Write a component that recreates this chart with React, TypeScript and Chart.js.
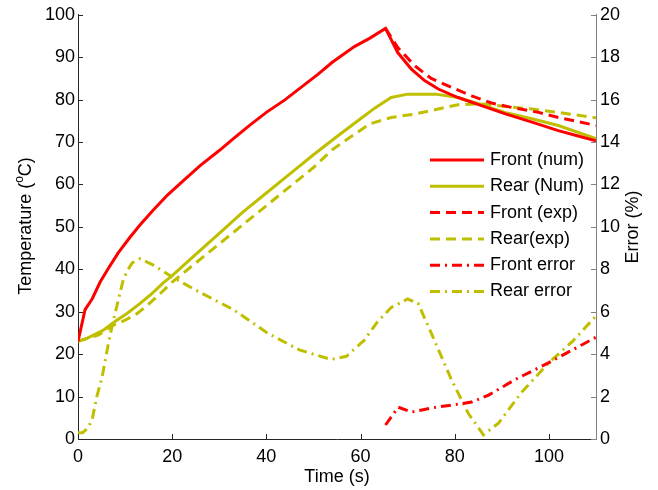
import React, { useEffect, useRef } from 'react';
import { Chart, registerables } from 'chart.js';
Chart.register(...registerables);

const RED = '#ff0000';
const OLIVE = '#bfbf00';
const FONT = '"Liberation Sans", Arial, Helvetica, sans-serif';

const xTicks = [0, 20, 40, 60, 80, 100];

const frontNumT = [0, 0.5, 1.5, 3, 4.7, 6.5, 8.5, 11, 13.2, 16, 19, 22.5, 26, 30, 33, 36.5, 40, 44, 47.5, 51, 54, 58.7, 62, 65.3, 67.9, 70.8, 73.6, 76.5, 80.7, 85.7, 90.6, 96.4, 102, 106, 110];
const frontNumY = [23, 25.5, 30.5, 33, 37, 40.3, 43.8, 47.5, 50.5, 54, 57.5, 61, 64.5, 68, 70.8, 74, 77, 80, 83, 86, 88.8, 92.5, 94.5, 96.8, 91.1, 87.2, 84.5, 82.5, 80.5, 78.6, 76.7, 74.7, 72.7, 71.5, 70.3];

const rearNumT = [0, 2, 5.3, 8, 10.4, 13, 15.4, 18.1, 20, 25, 30, 35, 40, 45, 50, 55, 60, 63, 66.5, 70, 76, 80.7, 85.7, 90.6, 96.4, 102, 110];
const rearNumY = [23, 23.8, 25.6, 27.8, 29.6, 31.8, 34, 36.8, 38.5, 43.5, 48.5, 53.5, 58, 62.5, 67, 71.3, 75.5, 78, 80.5, 81.3, 81.3, 80.5, 78.8, 77, 75.5, 73.9, 70.8];

const frontExpT = [65.3, 67.9, 71.5, 75, 79.3, 83.6, 87.8, 92.8, 97.8, 102, 106.3, 110];
const frontExpY = [96.8, 92.3, 88, 85, 82.9, 80.9, 79.2, 78, 77, 75.8, 74.8, 73.9];

const rearExpT = [0, 4.3, 7.5, 10, 12.6, 15, 17.5, 20, 25, 30, 35, 40, 45, 50, 54, 58, 62, 66.5, 71.5, 76.5, 80.7, 85.7, 90.6, 96.4, 102, 110];
const rearExpY = [23, 24.5, 26.8, 28, 29.6, 31.8, 34.3, 37, 41.5, 46, 50.5, 55, 59.5, 64, 68.2, 71.3, 74.3, 75.8, 76.6, 77.8, 78.8, 79, 78.4, 77.8, 77, 75.7];

const frontErrT = [65.3, 68, 70.8, 75, 79.3, 83.6, 87.2, 92.8, 100, 105, 110];
const frontErrY = [0.66, 1.5, 1.27, 1.46, 1.6, 1.74, 2.07, 2.8, 3.6, 4.2, 4.8];

const rearErrT = [0, 1, 2, 3, 4, 5.1, 6.2, 7.2, 8.5, 9.6, 10.4, 11.5, 13.2, 16, 20.3, 26, 33, 40.2, 47, 53.7, 57, 60.8, 63.5, 66.5, 70, 72.2, 75, 79.3, 82.9, 86.1, 89.3, 94.2, 100, 105, 110];
const rearErrY = [0.3, 0.3, 0.5, 0.9, 2.0, 2.9, 4.2, 5.3, 6.5, 7.5, 7.9, 8.3, 8.5, 8.2, 7.6, 6.9, 6.1, 5.0, 4.2, 3.75, 3.9, 4.66, 5.5, 6.2, 6.6, 6.4, 5.0, 2.8, 1.2, 0.2, 0.75, 2.2, 3.6, 4.6, 5.8];

const DASH = [10, 6];
const DASHDOT = [10, 5, 2, 5];

const series = [
  { label: 'Front (num)', t: frontNumT, v: frontNumY, color: RED, dash: [] as number[], axis: 'y' },
  { label: 'Rear (Num)', t: rearNumT, v: rearNumY, color: OLIVE, dash: [] as number[], axis: 'y' },
  { label: 'Front (exp)', t: frontExpT, v: frontExpY, color: RED, dash: DASH, axis: 'y' },
  { label: 'Rear(exp)', t: rearExpT, v: rearExpY, color: OLIVE, dash: DASH, axis: 'y' },
  { label: 'Front error', t: frontErrT, v: frontErrY, color: RED, dash: DASHDOT, axis: 'y1' },
  { label: 'Rear error', t: rearErrT, v: rearErrY, color: OLIVE, dash: DASHDOT, axis: 'y1' },
];

const decorPlugin = {
  id: 'decor',
  afterDraw(chart: any) {
    const ctx = chart.ctx as CanvasRenderingContext2D;
    const { left, right, bottom } = chart.chartArea;
    const sx = chart.scales.x;
    const sy = chart.scales.y;
    const sy1 = chart.scales.y1;
    ctx.save();
    ctx.lineWidth = 1;
    const seg = (x1: number, y1: number, x2: number, y2: number) => {
      ctx.beginPath();
      ctx.moveTo(x1, y1);
      ctx.lineTo(x2, y2);
      ctx.stroke();
    };
    ctx.strokeStyle = '#262626';
    sy.ticks.forEach((tk: any) => {
      const y = Math.round(sy.getPixelForValue(tk.value)) + 0.5;
      seg(left, y, left + 5, y);
    });
    sx.ticks.forEach((tk: any) => {
      const x = Math.round(sx.getPixelForValue(tk.value)) + 0.5;
      seg(x, bottom, x, bottom - 5);
    });
    ctx.strokeStyle = '#808080';
    sy1.ticks.forEach((tk: any) => {
      const y = Math.round(sy1.getPixelForValue(tk.value)) + 0.5;
      seg(right, y, right - 5, y);
    });

    // titles
    ctx.fillStyle = '#000';
    ctx.textBaseline = 'middle';
    ctx.font = `18px ${FONT}`;
    ctx.textAlign = 'center';
    ctx.fillText('Time (s)', (left + right) / 2, 477);

    // left title with superscript
    const p1 = 'Temperature (';
    const p3 = 'C)';
    const supFont = `12px ${FONT}`;
    ctx.font = `18px ${FONT}`;
    const w1 = ctx.measureText(p1).width;
    const w3 = ctx.measureText(p3).width;
    ctx.font = supFont;
    const w2 = ctx.measureText('o').width;
    const total = w1 + w2 + w3;
    ctx.save();
    ctx.translate(26, 226);
    ctx.rotate(-Math.PI / 2);
    ctx.textAlign = 'left';
    ctx.font = `18px ${FONT}`;
    ctx.fillText(p1, -total / 2, 0);
    ctx.font = supFont;
    ctx.fillText('o', -total / 2 + w1, -6);
    ctx.font = `18px ${FONT}`;
    ctx.fillText(p3, -total / 2 + w1 + w2, 0);
    ctx.restore();

    ctx.save();
    ctx.translate(633, 227);
    ctx.rotate(-Math.PI / 2);
    ctx.textAlign = 'center';
    ctx.font = `18px ${FONT}`;
    ctx.fillText('Error (%)', 0, 0);
    ctx.restore();

    // legend
    ctx.font = `18px ${FONT}`;
    ctx.textAlign = 'left';
    series.forEach((s, i) => {
      const y = 160 + i * 26.3;
      ctx.strokeStyle = s.color;
      ctx.lineWidth = 3;
      ctx.setLineDash(s.dash);
      seg(430, y, 484, y);
      ctx.setLineDash([]);
      ctx.fillStyle = '#000';
      ctx.fillText(s.label, 490, y);
    });
    ctx.restore();
  },
};

export default function App() {
  const ref = useRef<HTMLCanvasElement | null>(null);
  useEffect(() => {
    if (!ref.current) return;
    const chart = new Chart(ref.current, {
      type: 'line',
      data: {
        datasets: series.map((s) => ({
          label: s.label,
          data: s.t.map((t, i) => ({ x: t, y: s.v[i] })),
          borderColor: s.color,
          backgroundColor: s.color,
          borderWidth: 3,
          borderDash: s.dash,
          pointRadius: 0,
          tension: 0,
          fill: false,
          yAxisID: s.axis,
        })),
      },
      options: {
        animation: false,
        responsive: false,
        maintainAspectRatio: false,
        layout: { padding: { top: 14, left: 0, right: 0, bottom: 0 } },
        plugins: { legend: { display: false }, tooltip: { enabled: false } },
        scales: {
          x: {
            type: 'linear',
            min: 0,
            max: 110,
            afterBuildTicks: (sc: any) => {
              sc.ticks = xTicks.map((v) => ({ value: v }));
            },
            afterFit: (sc: any) => {
              sc.height = 51;
            },
            grid: { display: false, drawTicks: false },
            border: { display: true, color: '#262626', width: 1 },
            ticks: { padding: 7, color: '#000', font: { family: FONT, size: 18 }, maxRotation: 0 },
          },
          y: {
            type: 'linear',
            position: 'left',
            min: 0,
            max: 100,
            afterFit: (sc: any) => {
              sc.width = 78;
            },
            grid: { display: false, drawTicks: false },
            border: { display: true, color: '#262626', width: 1 },
            ticks: { stepSize: 10, padding: 3, color: '#000', font: { family: FONT, size: 18 } },
          },
          y1: {
            type: 'linear',
            position: 'right',
            min: 0,
            max: 20,
            afterFit: (sc: any) => {
              sc.width = 62;
            },
            grid: { display: false, drawTicks: false },
            border: { display: true, color: '#808080', width: 1 },
            ticks: { stepSize: 2, padding: 4, color: '#000', font: { family: FONT, size: 18 } },
          },
        },
      },
      plugins: [decorPlugin],
    } as any);
    return () => chart.destroy();
  }, []);
  return (
    <div style={{ position: 'absolute', left: 0, top: 0, width: 658, height: 490, background: '#fff' }}>
      <canvas ref={ref} width={658} height={490} style={{ display: 'block' }} />
    </div>
  );
}
